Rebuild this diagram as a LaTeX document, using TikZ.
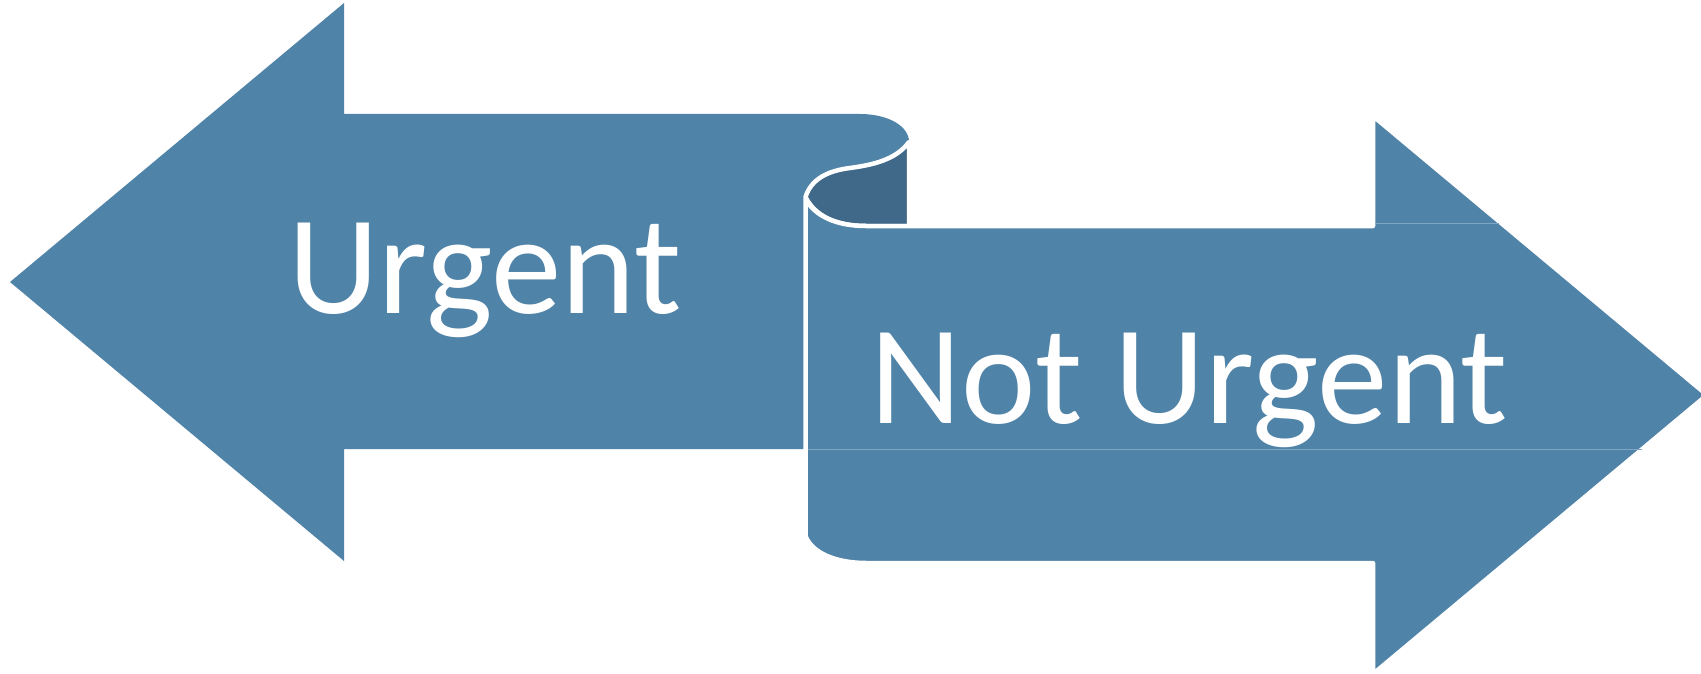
\documentclass[tikz,border=0pt]{standalone}
\usepackage{fontspec}
\setmainfont{Carlito}
\definecolor{arrowblue}{RGB}{80,131,168}
\definecolor{curldark}{RGB}{64,104,136}
\definecolor{seam}{RGB}{128,164,196}
\tikzset{
  arrowfill/.style={fill=arrowblue, draw=none},
  curlpart/.style={fill=curldark, draw=white, line width=4.5pt, line join=round},
  rightarrow/.style={fill=arrowblue, draw=white, line width=4.5pt, line join=round},
  seamline/.style={draw=seam, line width=0.8pt},
  bigtext/.style={text=white, inner sep=0pt, anchor=base west, font=\fontsize{141}{150}\selectfont}
}
\begin{document}
\begin{tikzpicture}[x=1pt,y=-1pt]
\useasboundingbox (0,0) rectangle (1701,674);
% left arrow (Urgent)
\path[arrowfill] (10,282) -- (344,3) -- (344,114) -- (860,114)
  .. controls (888,114) and (909,126) .. (909,142)
  .. controls (896,160) and (872,165) .. (850,168)
  .. controls (826,171) and (811,180) .. (805.5,197)
  -- (805.5,449) -- (344,449) -- (344,561) -- cycle;
% curl (back side)
\path[curlpart] (909,142)
  .. controls (896,160) and (872,165) .. (850,168)
  .. controls (826,171) and (811,180) .. (805.5,197)
  .. controls (815,216) and (836,226) .. (866,226)
  -- (909,226) -- cycle;
% right arrow (Not Urgent)
\path[rightarrow] (805.5,199)
  .. controls (815,216) and (836,226) .. (866,226)
  -- (1373,226) -- (1373,116) -- (1707,395) -- (1373,674) -- (1373,563)
  -- (866,563) .. controls (836,563) and (812,553) .. (805.5,536) -- cycle;
% faint seams
\coordinate (s1a) at (808,449.5);
\coordinate (s1b) at (1642,449.5);
\coordinate (s2a) at (1375,223.5);
\coordinate (s2b) at (1499,223.5);
\draw[seamline] (s1a) -- (s1b);
\draw[seamline] (s2a) -- (s2b);
% labels
\node[bigtext] (urgent) at (288,313.5) {Urgent};
\node[bigtext] (noturgent) at (870,423) {Not Urgent};
\end{tikzpicture}
\end{document}
